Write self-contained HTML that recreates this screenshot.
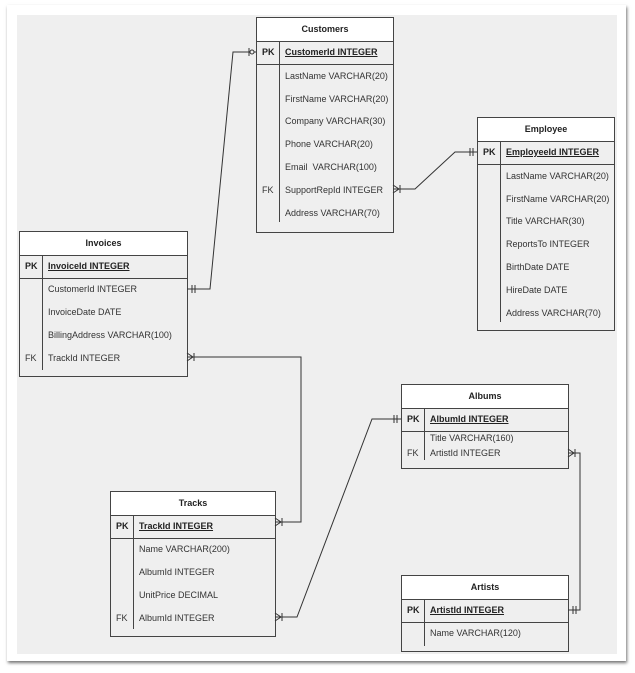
<!DOCTYPE html>
<html><head><meta charset="utf-8"><style>
body{margin:0;width:635px;height:673px;background:#fff;overflow:hidden;font-family:"Liberation Sans",sans-serif}
#frame{position:absolute;left:7px;top:5px;width:619px;height:656px;background:#fff;box-shadow:1px 2px 3px rgba(0,0,0,.55)}
#bg{position:absolute;left:17px;top:15px;width:600px;height:639px;background:#efefef}
.t{position:absolute;background:#efefef;border:1px solid #444;box-sizing:border-box;font-size:9px;color:#333}
.h{position:absolute;left:0;right:0;top:0;height:23px;background:#fff;border-bottom:1px solid #444;text-align:center;line-height:23px;font-weight:bold;color:#222}
.pk{position:absolute;left:0;right:0;top:23px;height:23px;border-bottom:1px solid #444;line-height:23px;font-weight:bold;color:#222}
.pk span{text-decoration:underline}
.r{position:absolute;white-space:nowrap}
.k{position:absolute;left:5px}
.d{position:absolute;width:1px;background:#444}
svg{position:absolute;left:0;top:0}
</style></head><body>
<div id="frame"></div><div id="bg"></div>

<div class="t" style="left:256px;top:17px;width:138px;height:216px">
<div class="h">Customers</div>
<div class="pk"><b class="k">PK</b><span class="r" style="left:28px">CustomerId INTEGER</span></div>
<div class="d" style="left:22px;top:23px;height:23px"></div><div class="d" style="left:22px;top:46px;height:158px"></div>
<div class="r" style="left:28px;top:53px">LastName VARCHAR(20)</div>
<div class="r" style="left:28px;top:76px">FirstName VARCHAR(20)</div>
<div class="r" style="left:28px;top:98px">Company VARCHAR(30)</div>
<div class="r" style="left:28px;top:121px">Phone VARCHAR(20)</div>
<div class="r" style="left:28px;top:144px">Email&nbsp; VARCHAR(100)</div>
<div class="r k" style="top:167px">FK</div><div class="r" style="left:28px;top:167px">SupportRepId INTEGER</div>
<div class="r" style="left:28px;top:190px">Address VARCHAR(70)</div>
</div>

<div class="t" style="left:477px;top:117px;width:138px;height:214px">
<div class="h">Employee</div>
<div class="pk"><b class="k">PK</b><span class="r" style="left:28px">EmployeeId INTEGER</span></div>
<div class="d" style="left:22px;top:23px;height:23px"></div><div class="d" style="left:22px;top:46px;height:158px"></div>
<div class="r" style="left:28px;top:53px">LastName VARCHAR(20)</div>
<div class="r" style="left:28px;top:76px">FirstName VARCHAR(20)</div>
<div class="r" style="left:28px;top:98px">Title VARCHAR(30)</div>
<div class="r" style="left:28px;top:121px">ReportsTo INTEGER</div>
<div class="r" style="left:28px;top:144px">BirthDate DATE</div>
<div class="r" style="left:28px;top:167px">HireDate DATE</div>
<div class="r" style="left:28px;top:190px">Address VARCHAR(70)</div>
</div>

<div class="t" style="left:19px;top:231px;width:169px;height:146px">
<div class="h">Invoices</div>
<div class="pk"><b class="k">PK</b><span class="r" style="left:28px">InvoiceId INTEGER</span></div>
<div class="d" style="left:22px;top:23px;height:23px"></div><div class="d" style="left:22px;top:46px;height:92px"></div>
<div class="r" style="left:28px;top:52px">CustomerId INTEGER</div>
<div class="r" style="left:28px;top:75px">InvoiceDate DATE</div>
<div class="r" style="left:28px;top:98px">BillingAddress VARCHAR(100)</div>
<div class="r k" style="top:121px">FK</div><div class="r" style="left:28px;top:121px">TrackId INTEGER</div>
</div>

<div class="t" style="left:110px;top:491px;width:166px;height:146px">
<div class="h">Tracks</div>
<div class="pk"><b class="k">PK</b><span class="r" style="left:28px">TrackId INTEGER</span></div>
<div class="d" style="left:22px;top:23px;height:23px"></div><div class="d" style="left:22px;top:46px;height:91px"></div>
<div class="r" style="left:28px;top:52px">Name VARCHAR(200)</div>
<div class="r" style="left:28px;top:75px">AlbumId INTEGER</div>
<div class="r" style="left:28px;top:98px">UnitPrice DECIMAL</div>
<div class="r k" style="top:121px">FK</div><div class="r" style="left:28px;top:121px">AlbumId INTEGER</div>
</div>

<div class="t" style="left:401px;top:384px;width:168px;height:85px">
<div class="h">Albums</div>
<div class="pk"><b class="k">PK</b><span class="r" style="left:28px">AlbumId INTEGER</span></div>
<div class="d" style="left:22px;top:23px;height:23px"></div><div class="d" style="left:22px;top:46px;height:29px"></div>
<div class="r" style="left:28px;top:48px">Title VARCHAR(160)</div>
<div class="r k" style="top:63px">FK</div><div class="r" style="left:28px;top:63px">ArtistId INTEGER</div>
</div>

<div class="t" style="left:401px;top:575px;width:168px;height:77px">
<div class="h">Artists</div>
<div class="pk"><b class="k">PK</b><span class="r" style="left:28px">ArtistId INTEGER</span></div>
<div class="d" style="left:22px;top:23px;height:23px"></div><div class="d" style="left:22px;top:46px;height:24px"></div>
<div class="r" style="left:28px;top:52px">Name VARCHAR(120)</div>
</div>

<svg width="635" height="673" fill="none" stroke="#333" stroke-width="1">
<polyline points="187,289 210,289 233,52 256,52"/>
<path d="M192,285v8M195,285v8M249,48v8"/><circle cx="252" cy="52" r="2" fill="#efefef"/>
<polyline points="393,189 415,189 455,152 477,152"/>
<path d="M393,185l6,4l-6,4M400,185v8M470,148v8M473,148v8"/>
<polyline points="187,357 301,357 301,522 275,522"/>
<path d="M187,353l6,4l-6,4M194,353v8M275,518l6,4l-6,4M282,518v8"/>
<polyline points="275,617 297,617 372,419 401,419"/>
<path d="M275,613l6,4l-6,4M282,613v8M394,415v8M397,415v8"/>
<polyline points="568,453 580,453 580,610 568,610"/>
<path d="M568,449l6,4l-6,4M575,449v8M573,606v8M576,606v8"/>
</svg>
</body></html>
